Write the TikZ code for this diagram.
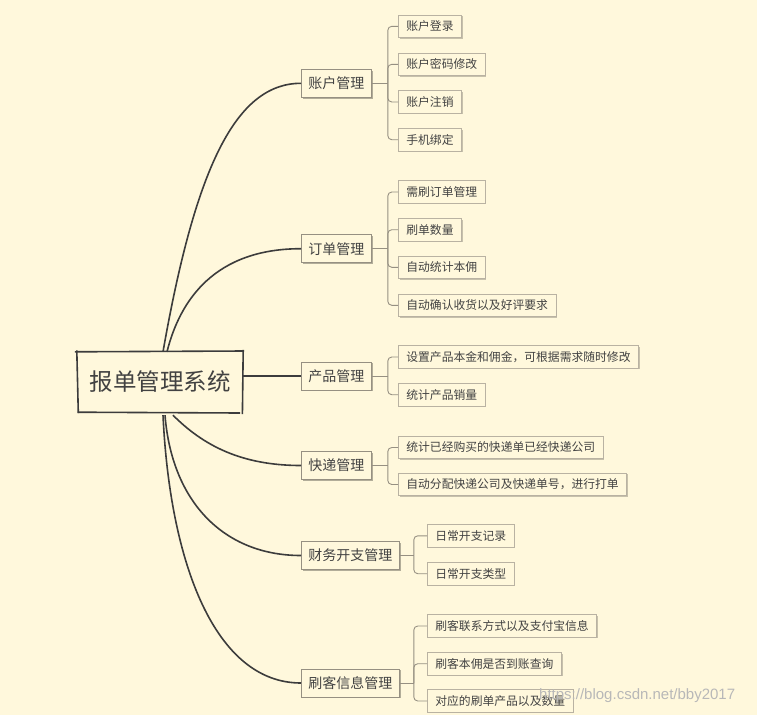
\documentclass[tikz,border=0pt]{standalone}
\usepackage{fontspec}
\newfontfamily\cjk{Noto Sans CJK SC}
\newfontfamily\markfont{Liberation Sans}
\usepackage{xcolor}
\usetikzlibrary{shadows}
\definecolor{mybg}{RGB}{255, 248, 220}
\definecolor{myline}{RGB}{60, 60, 60}
\definecolor{mybox}{RGB}{150, 144, 130}
\definecolor{myleaf}{RGB}{185, 178, 162}
\definecolor{mytext}{RGB}{66, 66, 66}

\tikzset{
rootbox/.style={fill=mybg, minimum width=166pt, minimum height=60pt, inner sep=0pt, text=mytext, font=\cjk\fontsize{23.5}{26}\selectfont},
topic/.style={draw=mybox, line width=0.8pt, fill=mybg, minimum height=28pt, inner xsep=7pt, inner ysep=0pt, text=mytext, font=\cjk\fontsize{14}{16}\selectfont, drop shadow={shadow xshift=1.2pt, shadow yshift=-1.2pt, fill=black, opacity=0.3}},
leaf/.style={draw=myleaf, line width=0.7pt, fill=mybg, minimum height=22.5pt, inner xsep=8pt, inner ysep=0pt, anchor=west, text=mytext, font=\cjk\fontsize{11.8}{14}\selectfont, drop shadow={shadow xshift=1.2pt, shadow yshift=-1.2pt, fill=black, opacity=0.22}},
curve/.style={draw=myline, line width=1.6pt},
branch/.style={draw=mybox, line width=0.9pt, rounded corners=4pt},
}

\begin{document}
\begin{tikzpicture}[x=1pt, y=-1pt]
\fill[mybg] (0,0) rectangle (757,715);

%%%%%%%%%% root
\node[rootbox] (root) at (160,382) {\raisebox{-3pt}{报单管理系统}};
\draw[myline, line width=1.6pt] ([xshift=-2pt]root.north west) -- ([xshift=1pt, yshift=0.8pt]root.north east);
\draw[myline, line width=1.6pt] ([yshift=2pt]root.north east) -- ([xshift=-0.8pt, yshift=-2pt]root.south east);
\draw[myline, line width=1.6pt] ([xshift=1pt]root.south west) -- ([xshift=-3pt, yshift=-0.8pt]root.south east);
\draw[myline, line width=1.6pt] ([yshift=1.5pt]root.north west) -- ([xshift=1.5pt, yshift=-1pt]root.south west);

%%%%%%%%%% main topics
\node[topic, anchor=west] (acc) at (301,83.3) {账户管理};
\node[topic, anchor=west] (ord) at (301,248.7) {订单管理};
\node[topic, anchor=west] (prod) at (301,376) {产品管理};
\node[topic, anchor=west] (exp) at (301,465.5) {快递管理};
\node[topic, anchor=west] (fin) at (301,555.5) {财务开支管理};
\node[topic, anchor=west] (cust) at (301,683) {刷客信息管理};

\coordinate (r1) at ([xshift=3pt]root.north);
\coordinate (r2) at ([xshift=7pt]root.north);
\coordinate (r4) at ([xshift=13pt, yshift=-3pt]root.south);
\coordinate (r5) at ([xshift=5pt, yshift=-3pt]root.south);
\coordinate (r6) at ([xshift=3pt, yshift=-3pt]root.south);

\draw[curve] (r1) .. controls +(32,-182) and +(-66,0) .. (acc.west);
\draw[curve] (r2) .. controls +(13,-52) and +(-86,0) .. (ord.west);
\draw[curve] (root.east |- prod.west) -- (prod.west);
\draw[curve] (r4) .. controls +(30,30) and +(-60,0) .. (exp.west);
\draw[curve] (r5) .. controls +(7,88) and +(-76,0) .. (fin.west);
\draw[curve] (r6) .. controls +(7,148) and +(-86,0) .. (cust.west);

%%%%%%%%%% leaves
\node[leaf] (a1) at (398,26.3) {账户登录};
\node[leaf] (a2) at (398,64.3) {账户密码修改};
\node[leaf] (a3) at (398,102) {账户注销};
\node[leaf] (a4) at (398,139.7) {手机绑定};

\node[leaf] (o1) at (398,192) {需刷订单管理};
\node[leaf] (o2) at (398,229.7) {刷单数量};
\node[leaf] (o3) at (398,267.3) {自动统计本佣};
\node[leaf] (o4) at (398,305.3) {自动确认收货以及好评要求};

\node[leaf] (p1) at (398,357) {设置产品本金和佣金，可根据需求随时修改};
\node[leaf] (p2) at (398,394.7) {统计产品销量};

\node[leaf] (e1) at (398,447.5) {统计已经购买的快递单已经快递公司};
\node[leaf] (e2) at (398,484.5) {自动分配快递公司及快递单号，进行打单};

\node[leaf] (f1) at (427,535.8) {日常开支记录};
\node[leaf] (f2) at (427,573.7) {日常开支类型};

\node[leaf] (c1) at (427,626) {刷客联系方式以及支付宝信息};
\node[leaf] (c2) at (427,663.7) {刷客本佣是否到账查询};
\node[leaf] (c3) at (427,701) {对应的刷单产品以及数量};

\coordinate (ta) at ([xshift=16pt]acc.east);
\coordinate (to) at ([xshift=16pt]ord.east);
\coordinate (tp) at ([xshift=16pt]prod.east);
\coordinate (te) at ([xshift=16pt]exp.east);
\coordinate (tf) at ([xshift=14pt]fin.east);
\coordinate (tc) at ([xshift=14pt]cust.east);

\draw[branch] (acc.east) -- (ta);
\draw[branch] (ord.east) -- (to);
\draw[branch] (prod.east) -- (tp);
\draw[branch] (exp.east) -- (te);
\draw[branch] (fin.east) -- (tf);
\draw[branch] (cust.east) -- (tc);
\foreach \n in {a1,a2,a3,a4} \draw[branch] (ta) |- (\n.west);
\foreach \n in {o1,o2,o3,o4} \draw[branch] (to) |- (\n.west);
\foreach \n in {p1,p2} \draw[branch] (tp) |- (\n.west);
\foreach \n in {e1,e2} \draw[branch] (te) |- (\n.west);
\foreach \n in {f1,f2} \draw[branch] (tf) |- (\n.west);
\foreach \n in {c1,c2,c3} \draw[branch] (tc) |- (\n.west);

% watermark
\node[anchor=west, inner sep=0pt, text=black!28, font=\markfont\fontsize{15}{17}\selectfont] (mark) at (539,696) {https://blog.csdn.net/bby2017};
\end{tikzpicture}
\end{document}
